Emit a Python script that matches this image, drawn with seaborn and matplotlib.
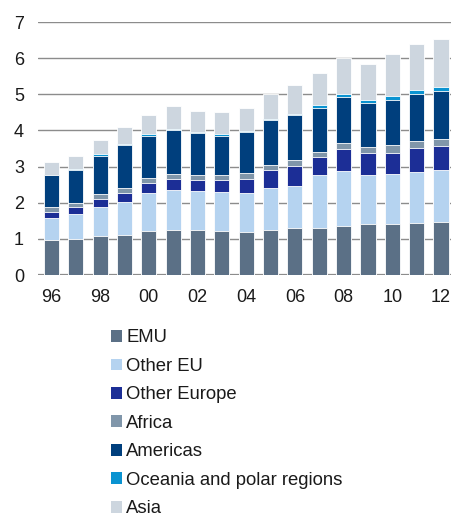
import numpy as np
import pandas as pd
import matplotlib
matplotlib.use("Agg")
import matplotlib.pyplot as plt
from matplotlib.patches import Patch
import seaborn as sns

years = ['96', '97', '98', '99', '00', '01', '02', '03', '04', '05', '06',
         '07', '08', '09', '10', '11', '12']
regions = ['EMU', 'Other EU', 'Other Europe', 'Africa', 'Americas',
           'Oceania and polar regions', 'Asia']
colors = ['#5b7086', '#b5d3f0', '#1c2e96', '#8096aa', '#003f7d', '#0a93d1', '#cdd6df']

# cumulative tops, one list per region
emu_top = [0.97, 0.99, 1.07, 1.11, 1.21, 1.24, 1.24, 1.22, 1.20, 1.26, 1.29,
           1.30, 1.37, 1.42, 1.42, 1.44, 1.46]
other_eu_top = [1.58, 1.70, 1.89, 2.01, 2.26, 2.35, 2.32, 2.29, 2.28, 2.41, 2.46,
                2.77, 2.87, 2.78, 2.79, 2.86, 2.90]
other_europe_top = [1.74, 1.88, 2.10, 2.26, 2.54, 2.65, 2.63, 2.63, 2.67, 2.90, 3.03,
                    3.26, 3.49, 3.38, 3.39, 3.52, 3.56]
africa_top = [1.87, 2.00, 2.24, 2.40, 2.68, 2.80, 2.77, 2.77, 2.82, 3.05, 3.19,
              3.40, 3.66, 3.54, 3.60, 3.71, 3.76]
americas_top = [2.76, 2.91, 3.30, 3.61, 3.86, 4.00, 3.93, 3.86, 3.95, 4.28, 4.42,
                4.62, 4.92, 4.75, 4.85, 5.00, 5.09]
oceania_top = [2.78, 2.93, 3.35, 3.64, 3.89, 4.04, 3.95, 3.91, 3.99, 4.33, 4.47,
               4.70, 5.02, 4.85, 4.95, 5.12, 5.20]
asia_top = [3.12, 3.30, 3.74, 4.11, 4.44, 4.69, 4.53, 4.50, 4.61, 5.01, 5.25,
            5.60, 6.01, 5.85, 6.13, 6.38, 6.52]

tops = [emu_top, other_eu_top, other_europe_top, africa_top, americas_top,
        oceania_top, asia_top]
df = pd.DataFrame(dict(zip(regions, tops)))
df['year'] = years

sns.set_style("white")
plt.rcParams['font.family'] = ['Liberation Sans', 'DejaVu Sans']

fig = plt.figure(figsize=(4.52, 5.18), dpi=100)
ax = fig.add_axes([0.084, 0.469, 0.916, 0.4884])

ax.yaxis.grid(True, color='#8c8c8c', linewidth=1.0)
ax.set_axisbelow(True)

# draw from the top layer down so each shorter bar covers the one before
for region, cc in zip(regions[::-1], colors[::-1]):
    sns.barplot(data=df, x='year', y=region, color=cc, ax=ax, width=0.62,
                saturation=1, errorbar=None, edgecolor='white', linewidth=0.6)

ax.axhline(0, color='#8c8c8c', linewidth=1.6, zorder=0.5)
ax.set_ylim(0, 7)
ax.set_xlim(-0.55, 16.45)
ax.set_yticks(range(0, 8))
ax.set_xticks(range(0, 17, 2))
ax.set_xticklabels(years[::2])
ax.set_xlabel('')
ax.set_ylabel('')
ax.tick_params(axis='both', length=0, labelsize=13, colors='#1a1a1a')
ax.tick_params(axis='y', pad=10)
ax.tick_params(axis='x', pad=10)
sns.despine(ax=ax, left=True, bottom=True)

handles = [Patch(facecolor=cc, edgecolor='none') for cc in colors]
fig.legend(handles, regions, loc='upper left', bbox_to_anchor=(0.245, 0.364),
           frameon=False, fontsize=13.3, handlelength=0.6, handleheight=0.6,
           handletextpad=0.25, labelspacing=0.62, borderpad=0, borderaxespad=0,
           labelcolor='#1a1a1a')

fig.savefig('out.png', dpi=100)
